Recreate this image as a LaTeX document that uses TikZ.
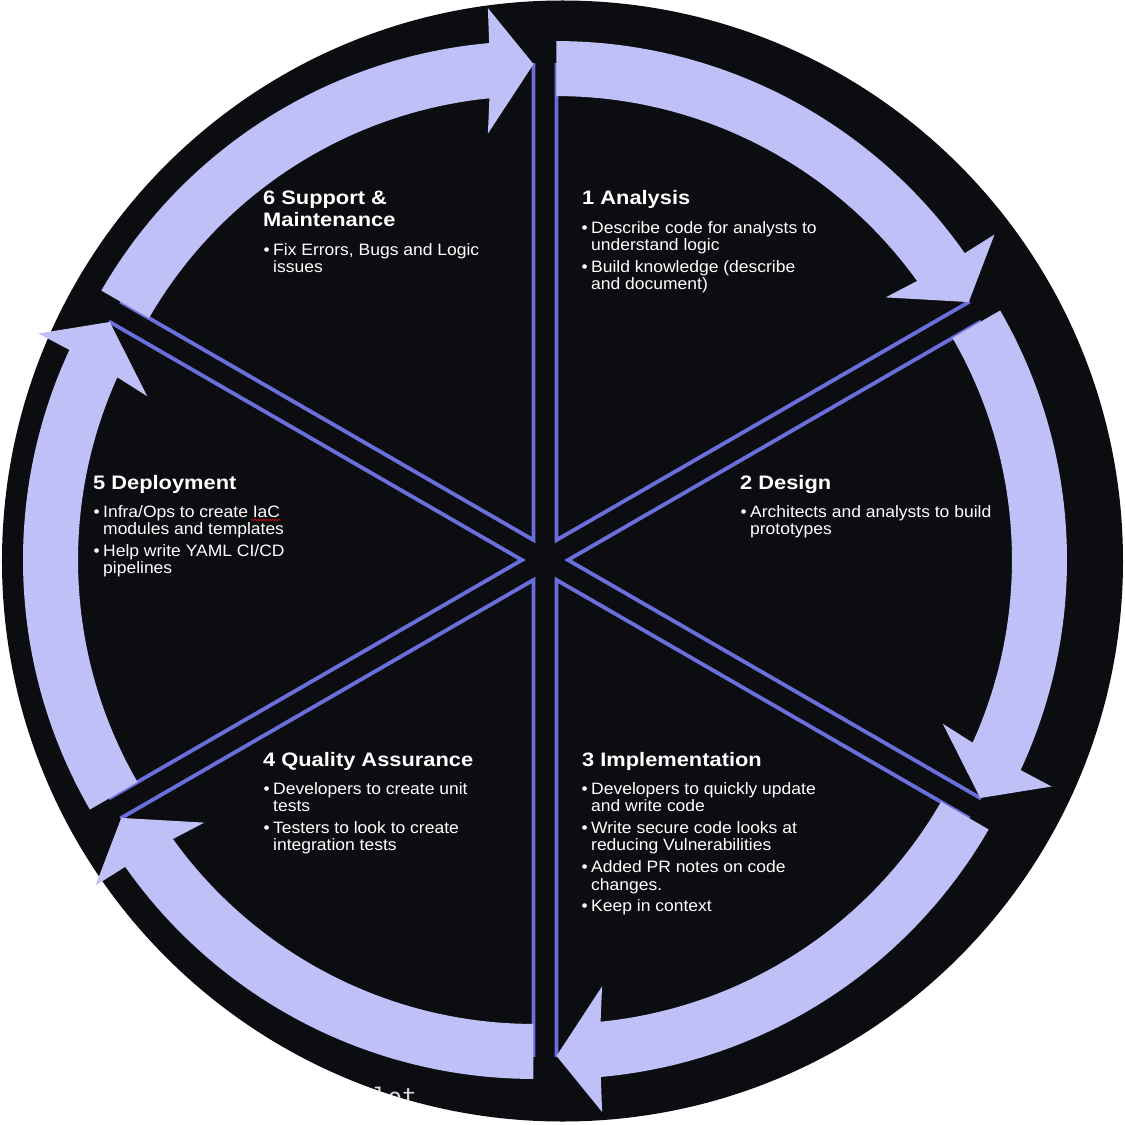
\documentclass[tikz,border=0pt]{standalone}
\usepackage{fontspec}
\setmainfont{Liberation Sans}
\newfontfamily\headfont{Liberation Sans}[FakeStretch=1.12]
\newfontfamily\itemfont{Liberation Sans}[FakeStretch=1.06]
\newfontfamily\codefont{DejaVu Sans Mono}
\usetikzlibrary{decorations.pathmorphing}

\definecolor{disk}{HTML}{0C0D11}
\definecolor{band}{HTML}{C0C0F8}
\definecolor{edge}{HTML}{6B6FDC}
\definecolor{faint}{HTML}{D8D8D8}

\newcommand{\bul}{\llap{\textbullet\hspace{3.5pt}}}

\tikzset{
  edgeline/.style={draw=edge, line width=3.8pt, line join=miter},
  bandarrow/.style={fill=band},
  head/.style={anchor=base west, inner sep=0pt, text=white, font=\headfont\bfseries\fontsize{19.5}{21}\selectfont},
  item/.style={anchor=base west, inner sep=0pt, text=white, font=\itemfont\fontsize{16.5}{17.5}\selectfont},
}

\begin{document}
\begin{tikzpicture}[x=1pt,y=1pt]
  % canvas: origin at the hub of the six segments
  \fill[white] (-545,-565) rectangle (580,560);
  \useasboundingbox (-545,-565) rectangle (580,560);

  % dark disk
  \fill[disk] (17.5,-1) circle (560.5);

  % six exploded segments: straight edges and the curved arrow over the rim
  \foreach \b [count=\k] in {60,0,-60,-120,180,120}{
    \pgfmathsetmacro{\s}{\b+30}
    \pgfmathsetmacro{\e}{\b-30}
    \coordinate (c\k) at (\b:23);
    \begin{scope}[shift={(c\k)}]
      \draw[edgeline] (\s:477) -- (0,0) -- (\e:477);
      \fill[bandarrow] (\s:499) arc[start angle=\s, end angle=\e+5.1, radius=499]
        -- (\e+4.9:534) -- (\e:476) -- (\e+6.4:409) -- (\e+5.7:444)
        arc[start angle=\e+5.7, end angle=\s, radius=444] -- cycle;
    \end{scope}
  }

  % labels, placed in image-style coordinates (y grows downwards)
  \begin{scope}[shift={(-545,560)}, yscale=-1]
    % 1 Analysis
    \node[head] (h1) at (582,205) {1 Analysis};
    \node[item] (a1) at (591,233.3) {\bul Describe code for analysts to};
    \node[item] (a2) at (591,250.8) {understand logic};
    \node[item] (a3) at (591,272.4) {\bul Build knowledge (describe};
    \node[item] (a4) at (591,289.9) {and document)};

    % 2 Design
    \node[head] (h2) at (740,489) {2 Design};
    \node[item] (b1) at (750,517.3) {\bul Architects and analysts to build};
    \node[item] (b2) at (750,534.8) {prototypes};

    % 3 Implementation
    \node[head] (h3) at (582,766.3) {3 Implementation};
    \node[item] (i1) at (591,794.3) {\bul Developers to quickly update};
    \node[item] (i2) at (591,811.8) {and write code};
    \node[item] (i3) at (591,833.4) {\bul Write secure code looks at};
    \node[item] (i4) at (591,850.9) {reducing Vulnerabilities};
    \node[item] (i5) at (591,872.5) {\bul Added PR notes on code};
    \node[item] (i6) at (591,890.0) {changes.};
    \node[item] (i7) at (591,911.6) {\bul Keep in context};

    % 4 Quality Assurance
    \node[head] (h4) at (263,766.3) {4 Quality Assurance};
    \node[item] (q1) at (273,794.3) {\bul Developers to create unit};
    \node[item] (q2) at (273,811.8) {tests};
    \node[item] (q3) at (273,833.4) {\bul Testers to look to create};
    \node[item] (q4) at (273,850.9) {integration tests};

    % 5 Deployment
    \node[head] (h5) at (93,489) {5 Deployment};
    \node[item] (d1) at (103,517.3) {\bul Infra/Ops to create IaC};
    \node[item] (d2) at (103,534.8) {modules and templates};
    \node[item] (d3) at (103,556.4) {\bul Help write YAML CI/CD};
    \node[item] (d4) at (103,573.9) {pipelines};
    \draw[red!85!black, line width=0.7pt, decorate,
          decoration={snake, amplitude=0.7pt, segment length=3pt}]
      (251,520) -- (281,520);

    % 6 Support & Maintenance
    \node[head] (h6a) at (263,205) {6 Support \&};
    \node[head] (h6b) at (263,227) {Maintenance};
    \node[item] (m1) at (273,255.5) {\bul Fix Errors, Bugs and Logic};
    \node[item] (m2) at (273,273) {issues};
  \end{scope}

  % faint caption, only visible where it crosses the disk
  \begin{scope}
    \clip (17.5,-1) circle (560.5);
    \node[anchor=base west, inner sep=0pt, text=faint,
          font=\codefont\fontsize{24}{24}\selectfont] (cap) at (-172,-545) {lot};
  \end{scope}
\end{tikzpicture}
\end{document}
